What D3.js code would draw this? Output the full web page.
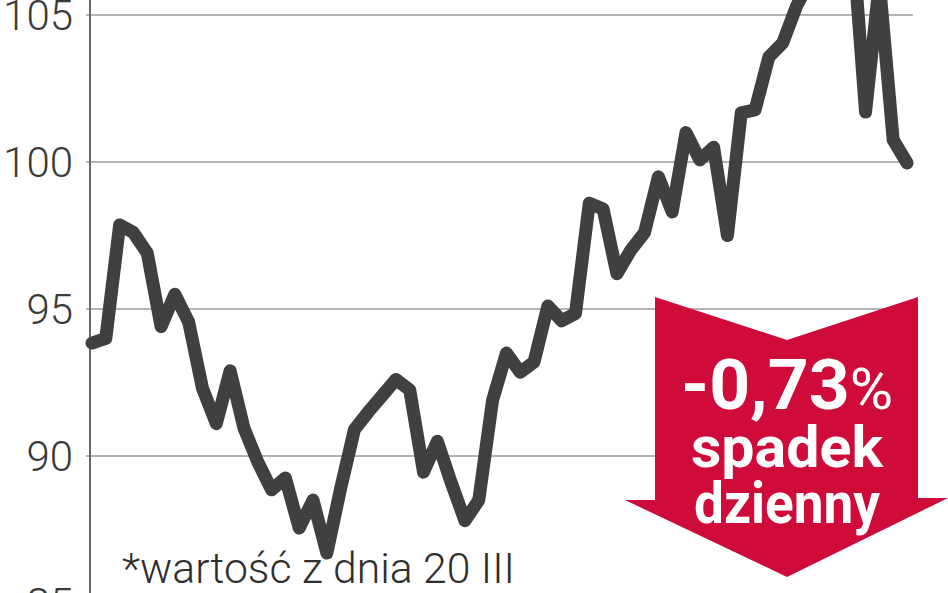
<!DOCTYPE html>
<html>
<head>
<meta charset="utf-8">
<script src="https://cdn.jsdelivr.net/npm/d3@7"></script>
<style>
    body { margin: 0; background: #fff; }
    #graph svg { display: block; }
</style>
</head>
<body>
<div id="graph"></div>
<script>
// index values, one per session (first ones off the top of the crop are guesses)
var values = [93.84, 94.0, 97.86, 97.6, 96.9, 94.4, 95.5, 94.55, 92.3, 91.1,
    92.9, 90.95, 89.8, 88.85, 89.25, 87.55, 88.5, 86.7, 88.9, 90.9,
    91.5, 92.05, 92.6, 92.25, 89.45, 90.5, 89.1, 87.8, 88.5, 91.9,
    93.5, 92.85, 93.2, 95.1, 94.6, 94.85, 98.6, 98.4, 96.2, 97.0,
    97.6, 99.5, 98.3, 101.0, 100.07, 100.5, 97.5, 101.67, 101.77, 103.57,
    104.05, 105.3, 106.2, 107.0, 107.6, 107.9, 101.7, 106.1, 100.75, 99.97];
var yTicks = [85, 90, 95, 100, 105];
var yDomain = [85, 105];
var footnote = "*wartość z dnia 20 III";
var changeLabel = "-0,73";
var changeLines = ["spadek", "dzienny"];

$draw();

function $draw() {
    var width = 948, height = 593;

    var svg = d3.select("#graph").append("svg")
        .attr("width", width)
        .attr("height", height);

    var xScale = d3.scaleLinear().domain([0, values.length - 1]).range([92, 907]);
    var yScale = d3.scaleLinear().domain(yDomain).range([603, 15]);

    // gridlines
    svg.append("g").selectAll("line").data(yTicks).enter().append("line")
        .attr("x1", 86).attr("x2", 913)
        .attr("y1", function(d) { return yScale(d); })
        .attr("y2", function(d) { return yScale(d); })
        .attr("stroke", "#9a9a9a")
        .attr("stroke-width", 1.6);

    // axis line
    svg.append("line")
        .attr("x1", 90).attr("x2", 90)
        .attr("y1", 0).attr("y2", height)
        .attr("stroke", "#6a6a6a")
        .attr("stroke-width", 2);

    svg.append("g").selectAll("text").data(yTicks).enter().append("text")
        .attr("x", 73)
        .attr("y", function(d) { return yScale(d); })
        .attr("dy", "0.36em")
        .attr("text-anchor", "end")
        .style("font-family", "Roboto, sans-serif")
        .style("font-weight", 300)
        .style("font-size", "42px")
        .attr("fill", "#3a3a3a")
        .text(function(d) { return d; });

    var lineFunction = d3.line()
        .x(function(d, i) { return xScale(i); })
        .y(function(d) { return yScale(d); });

    svg.append("path")
        .attr("d", lineFunction(values))
        .attr("fill", "none")
        .attr("stroke", "#404040")
        .attr("stroke-width", 13)
        .attr("stroke-linejoin", "round")
        .attr("stroke-linecap", "round");

    svg.append("text")
        .attr("x", 122)
        .attr("y", 583)
        .attr("textLength", 393)
        .attr("lengthAdjust", "spacingAndGlyphs")
        .style("font-family", "Roboto, sans-serif")
        .style("font-weight", 300)
        .style("font-size", "42px")
        .attr("fill", "#2e2e2e")
        .text(footnote);

    drawArrow(svg);
}

function drawArrow(svg) {
    var cx = 787;
    var pts = [[655, 297], [cx, 340], [918, 297], [918, 498], [948, 498],
        [cx, 577], [625, 500], [655, 500]];
    svg.append("path")
        .attr("d", d3.line()(pts) + "Z")
        .attr("fill", "#cf0b3a");

    var label = svg.append("text")
        .attr("x", cx)
        .attr("y", 409)
        .attr("text-anchor", "middle")
        .attr("textLength", 212)
        .attr("lengthAdjust", "spacingAndGlyphs")
        .style("font-family", "Roboto, sans-serif")
        .style("font-weight", 700)
        .style("font-size", "70px")
        .attr("fill", "#fff");
    label.append("tspan").text(changeLabel);
    label.append("tspan")
        .style("font-weight", 400)
        .style("font-size", "58px")
        .text("%");

    var widths = [192, 186];
    for (k = 0; k < changeLines.length; k++) {
        svg.append("text")
            .attr("x", cx)
            .attr("y", 467 + k * 56)
            .attr("text-anchor", "middle")
            .attr("textLength", widths[k])
            .attr("lengthAdjust", "spacingAndGlyphs")
            .style("font-family", "Roboto, sans-serif")
            .style("font-weight", 700)
            .style("font-size", "57px")
            .attr("fill", "#fff")
            .text(changeLines[k]);
    }
}
</script>
</body>
</html>
